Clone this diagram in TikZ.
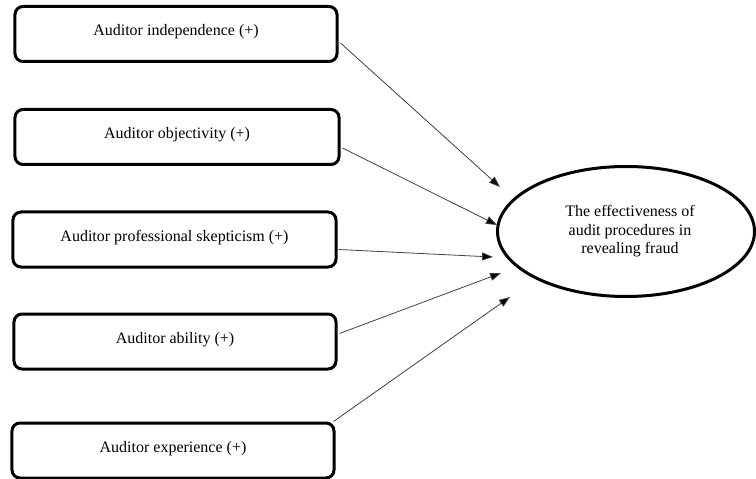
\documentclass[tikz,border=0pt]{standalone}
\usepackage{fontspec}
\setmainfont{Liberation Serif}
\usetikzlibrary{arrows.meta,shapes.geometric}
\begin{document}
\begin{tikzpicture}[x=1bp,y=-1bp,
  factor/.style={draw=black, line width=3bp, rounded corners=8bp, rectangle,
    minimum height=55bp, inner sep=0pt, text height=14bp, text depth=10bp,
    font=\fontsize{16bp}{19bp}\selectfont},
  outcome/.style={draw=black, line width=3bp, ellipse, inner sep=0pt,
    minimum width=257bp, minimum height=130bp, align=center,
    font=\fontsize{16bp}{18.5bp}\selectfont},
  link/.style={draw=black!75, line width=0.8bp,
    -{Triangle[length=11bp,width=8bp,fill=black]}}]
\useasboundingbox (0,0) rectangle (756,479);
\node[factor, minimum width=322bp] (b1) at (176,34) {Auditor independence (+)};
\node[factor, minimum width=324bp] (b2) at (177,137) {Auditor objectivity (+)};
\node[factor, minimum width=323bp] (b3) at (174.5,239.5) {Auditor professional skepticism (+)};
\node[factor, minimum width=322bp] (b4) at (175,341.5) {Auditor ability (+)};
\node[factor, minimum width=322bp] (b5) at (173,450.5) {Auditor experience (+)};
\node[outcome] (e) at (626,231.5) {\hspace*{8bp}The effectiveness of\\\hspace*{8bp}audit procedures in\\\hspace*{8bp}revealing fraud};
\coordinate (t1) at (500,187);
\coordinate (t2) at (497,225);
\coordinate (t3) at (493,257);
\coordinate (t4) at (501,273);
\coordinate (t5) at (510,297);
\draw[link] ([xshift=2bp,yshift=-9bp]b1.east) -- (t1);
\draw[link] ([xshift=2bp,yshift=-11bp]b2.east) -- (t2);
\draw[link] ([xshift=1bp,yshift=-10bp]b3.east) -- (t3);
\draw[link] ([xshift=2bp,yshift=8bp]b4.east) -- (t4);
\draw[link] ([xshift=-2bp]b5.north east) -- (t5);
\end{tikzpicture}
\end{document}
